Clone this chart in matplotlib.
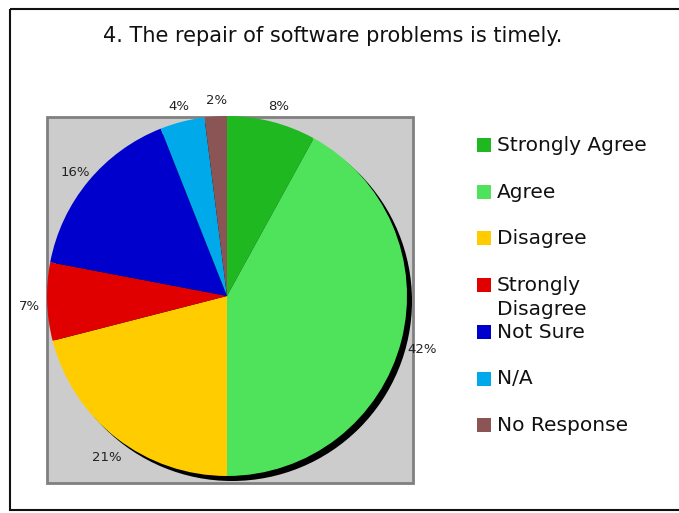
import matplotlib.pyplot as plt
from matplotlib.patches import Circle, Rectangle

title = "4. The repair of software problems is timely."
categories = ["Strongly Agree", "Agree", "Disagree", "Strongly\nDisagree",
              "Not Sure", "N/A", "No Response"]
percents = [8, 42, 21, 7, 16, 4, 2]
colors = ["#20b820", "#4ee35a", "#ffcc00", "#e00000", "#0000cc", "#00aaea", "#8b5555"]

W, H = 679, 513
fig = plt.figure(figsize=(W / 100, H / 100), dpi=100)
ax = fig.add_axes([0, 0, 1, 1])

# outer frame
ax.add_patch(Rectangle((9.5, 8.5), W, 501, fill=False, edgecolor="#111111", lw=1.5))

ax.text(333, 36, title, ha="center", va="center", fontsize=15, color="#111111")

# gray plot area behind the pie
ax.add_patch(Rectangle((46.5, 116.5), 366, 366, facecolor="#cccccc",
                       edgecolor="#808080", lw=2, zorder=1))

cx, cy, r = 227, 296, 180
ax.add_patch(Circle((cx + 5, cy + 5), r, facecolor="black", zorder=2))

# y axis runs downward, so -90 is the top and counterclock draws clockwise
wedges, _, autotexts = ax.pie(
    percents, colors=colors, startangle=-90, counterclock=True,
    center=(cx, cy), radius=r, autopct="%d%%", pctdistance=1.11,
    textprops={"fontsize": 9.5, "color": "#222222"},
    wedgeprops={"linewidth": 0, "zorder": 3}, frame=True)
for t in autotexts:
    x, y = t.get_position()
    t.set_position((x + 2, y + 4))
ax.set_xlim(0, W)
ax.set_ylim(H, 0)
ax.axis("off")

# legend
for i, (name, c) in enumerate(zip(categories, colors)):
    y = 145 + i * 46.7
    ax.add_patch(Rectangle((477, y - 7), 14, 14, facecolor=c, edgecolor="none"))
    ax.text(497, y - 9, name, ha="left", va="top", fontsize=14.5,
            color="#111111", linespacing=1.3)

fig.savefig("out.png", dpi=100)
